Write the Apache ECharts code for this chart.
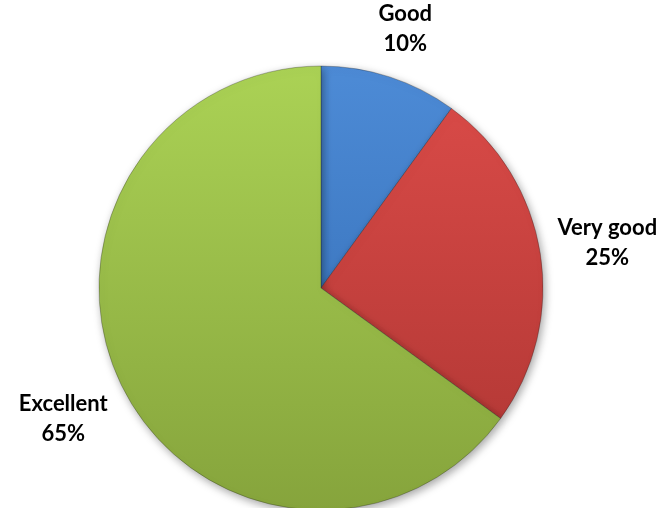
<!DOCTYPE html>
<html>
<head>
<meta charset="utf-8">
<script src="https://cdn.jsdelivr.net/npm/echarts@6/dist/echarts.min.js"></script>
<style>
  html, body { margin: 0; padding: 0; background: #ffffff; }
  #chart { width: 665px; height: 508px; }
</style>
</head>
<body>
<div id="chart"></div>
<script>
// Rating shares (percent)
const categories = ['Good', 'Very good', 'Excellent'];
const shares = [10, 25, 65];

// Slice palette: [top, bottom] of a vertical shade across the pie
const palette = [
  ['#4d8bd6', '#2f68b0'],
  ['#dc4c49', '#ad3532'],
  ['#abd255', '#86a43c']
];

const chart = echarts.init(document.getElementById('chart'), null, { renderer: 'canvas' });

const W = chart.getWidth();
const H = chart.getHeight();
const CX = W * 0.4827;
const CY = H * 0.567;
const R = 222;
const GAP = 14;
const total = shares.reduce((a, b) => a + b, 0);

function slicePaint(k) {
  const p = palette[k];
  return {
    type: 'linear', x: 0, y: CY - R, x2: 0, y2: CY + R, global: true,
    colorStops: [
      { offset: 0, color: p[0] },
      { offset: 1, color: p[1] }
    ]
  };
}

const data = categories.map((name, i) => ({
  name: name,
  value: shares[i],
  itemStyle: { color: slicePaint(i) }
}));

chart.setOption({
  animation: false,
  backgroundColor: '#ffffff',
  series: [{
    type: 'pie',
    center: [CX, CY],
    radius: [0, R],
    startAngle: 90,
    clockwise: true,
    avoidLabelOverlap: false,
    itemStyle: {
      borderColor: 'rgba(30,30,30,0.3)',
      borderWidth: 1,
      shadowBlur: 8,
      shadowOffsetX: 2,
      shadowOffsetY: 3,
      shadowColor: 'rgba(0,0,0,0.35)'
    },
    label: {
      show: true,
      position: 'outside',
      formatter: '{b}\n{c}%',
      fontFamily: 'Lato',
      fontWeight: 'bold',
      fontSize: 22,
      lineHeight: 30,
      color: '#000000',
      align: 'center'
    },
    labelLine: { show: false },
    // keep each label just outside the rim along its slice's mid-angle
    labelLayout: function (p) {
      const i = p.dataIndex;
      let cum = 0;
      for (let j = 0; j < i; j++) cum += shares[j];
      const a = (cum + shares[i] / 2) / total * Math.PI * 2;
      const ux = Math.sin(a), uy = -Math.cos(a);
      const hw = p.labelRect.width / 2, hh = p.labelRect.height / 2;
      const d = R + GAP + hw * Math.abs(ux) + hh * Math.abs(uy);
      return { x: CX + d * ux, y: CY + d * uy, align: 'center', verticalAlign: 'middle' };
    },
    emphasis: { disabled: true },
    data: data
  }]
});
</script>
</body>
</html>
